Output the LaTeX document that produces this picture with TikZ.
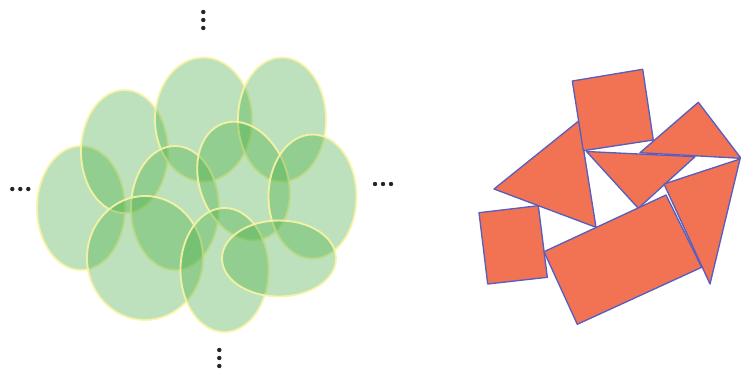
\documentclass[tikz,border=0pt]{standalone}
\usepackage{tikz}
\usepackage{xcolor}

\definecolor{leafgreen}{RGB}{66,170,63}
\definecolor{rimyellow}{RGB}{250,244,165}
\definecolor{tileorange}{RGB}{241,115,84}
\definecolor{tileblue}{RGB}{88,94,190}

\begin{document}
\begin{tikzpicture}[x=0.75pt,y=-0.75pt,
  blob/.style={fill=leafgreen,fill opacity=0.35,draw=rimyellow,draw opacity=0.9,line width=1.4pt},
  tile/.style={fill=tileorange,draw=tileblue,line width=1pt,line join=round},
  dot/.style={fill=black!85}]

\useasboundingbox (0,0) rectangle (741,371);

% Overlapping ellipses (left cluster)
\draw[blob] (81,208) ellipse (44 and 62);
\draw[blob] (124.5,151.5) ellipse (43.5 and 61.5);
\draw[blob] (203.5,119.5) ellipse (48.5 and 62);
\draw[blob] (282,119.5) ellipse (44 and 62);
\draw[blob] (175,208) ellipse (44 and 62);
\draw[blob,rotate around={20:(243.5,181)}] (243.5,181) ellipse (44 and 61);
\draw[blob] (312.5,196.5) ellipse (44 and 62);
\draw[blob] (145,258) ellipse (58 and 62);
\draw[blob] (224.5,270) ellipse (44 and 62);
\draw[blob] (279,258.5) ellipse (57 and 38);

% Dots round the cluster
\foreach \y in {12,20,28} \fill[dot] (203.3,\y) circle (2.2);
\foreach \y in {350,358,366} \fill[dot] (219.3,\y) circle (2.2);
\foreach \x in {12.3,20.3,28.3} \fill[dot] (\x,189) circle (2.2);
\foreach \x in {375,383,391} \fill[dot] (\x,184) circle (2.2);

% Scattered tiles (right)
% left triangle
\draw[tile] (494,189) -- (579,120.7) -- (596,227.3) -- cycle;
% top square
\draw[tile] (572.3,81) -- (642.7,69.3) -- (653.3,140) -- (583.3,150.7) -- cycle;
% upper right triangle
\draw[tile] (640,152.7) -- (698.3,102.3) -- (741,158.3) -- cycle;
% middle triangle
\draw[tile] (586.5,151.5) -- (695,156.7) -- (638.3,208.3) -- cycle;
% small square
\draw[tile] (479,212.7) -- (538.3,205.7) -- (547.3,277.3) -- (487.7,284) -- cycle;
% long rectangle
\draw[tile] (544,251.7) -- (666,195) -- (701.7,267.3) -- (577.3,324.3) -- cycle;
% right triangle
\draw[tile] (664,184) -- (740,159) -- (710,284) -- cycle;

\end{tikzpicture}
\end{document}
